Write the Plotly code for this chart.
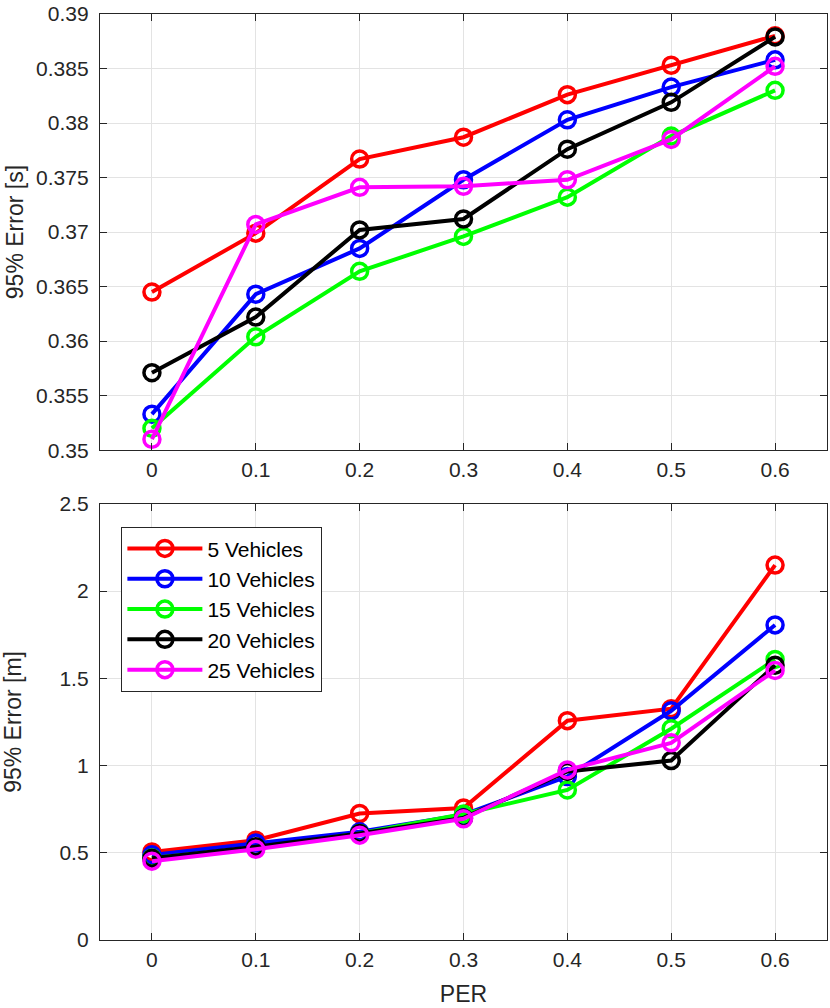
import plotly.graph_objects as go
from plotly.subplots import make_subplots

per = [0, 0.1, 0.2, 0.3, 0.4, 0.5, 0.6]
names = ["5 Vehicles", "10 Vehicles", "15 Vehicles", "20 Vehicles", "25 Vehicles"]
colors = ["#ff0000", "#0000ff", "#00ff00", "#000000", "#ff00ff"]

# 95% error in time [s]
err_s_5 = [0.3645, 0.3699, 0.3767, 0.3787, 0.3826, 0.3853, 0.3880]
err_s_10 = [0.3533, 0.3643, 0.3685, 0.3748, 0.3803, 0.3833, 0.3858]
err_s_15 = [0.3520, 0.3604, 0.3664, 0.3696, 0.3732, 0.3788, 0.3830]
err_s_20 = [0.3571, 0.3622, 0.3702, 0.3712, 0.3776, 0.3819, 0.3879]
err_s_25 = [0.3510, 0.3707, 0.3741, 0.3742, 0.3748, 0.3785, 0.3852]

# 95% error in distance [m]
err_m_5 = [0.505, 0.572, 0.725, 0.757, 1.257, 1.326, 2.149]
err_m_10 = [0.488, 0.556, 0.620, 0.718, 0.937, 1.314, 1.806]
err_m_15 = [0.470, 0.528, 0.611, 0.722, 0.860, 1.211, 1.608]
err_m_20 = [0.468, 0.535, 0.611, 0.700, 0.966, 1.029, 1.575]
err_m_25 = [0.452, 0.520, 0.601, 0.695, 0.975, 1.130, 1.545]

top = [err_s_5, err_s_10, err_s_15, err_s_20, err_s_25]
bottom = [err_m_5, err_m_10, err_m_15, err_m_20, err_m_25]

fig = make_subplots(rows=2, cols=1, vertical_spacing=0.058)

for i in range(len(names)):
    for row, data in [(1, top), (2, bottom)]:
        fig.add_trace(go.Scatter(
            x=per, y=data[i], mode="lines+markers", name=names[i],
            line=dict(color=colors[i], width=4),
            marker=dict(symbol="circle-open", size=16, color=colors[i],
                        line=dict(width=3.5, color=colors[i])),
            showlegend=(row == 2)), row=row, col=1)

font_name = "Liberation Sans, Arial"
title_font = dict(family=font_name, size=23, color="#262626")
axis_style = dict(showline=True, linecolor="#262626", linewidth=1.3, mirror="ticks",
                  ticks="inside", ticklen=7, tickcolor="#262626",
                  showgrid=True, gridcolor="#e3e3e3", gridwidth=1, zeroline=False,
                  tickfont=dict(family=font_name, size=21, color="#262626"))

fig.update_xaxes(range=[-0.05, 0.65], tickvals=per,
                 ticktext=["0", "0.1", "0.2", "0.3", "0.4", "0.5", "0.6"],
                 ticklabelstandoff=1, **axis_style)
fig.update_xaxes(title=dict(text="PER", font=title_font, standoff=15), row=2, col=1)
fig.update_yaxes(ticklabelstandoff=6, **axis_style)
fig.update_yaxes(range=[0.35, 0.39], dtick=0.005, tickformat="~g",
                 title=dict(text="95% Error [s]", font=title_font, standoff=6),
                 row=1, col=1)
fig.update_yaxes(range=[0, 2.5], dtick=0.5,
                 title=dict(text="95% Error [m]", font=title_font, standoff=31),
                 row=2, col=1)

fig.update_layout(
    width=830, height=1008,
    margin=dict(l=100, r=2, t=8, b=68),
    paper_bgcolor="white", plot_bgcolor="white",
    font=dict(family=font_name, color="#262626"),
    legend=dict(x=0.029, y=0.446, xanchor="left", yanchor="top",
                bgcolor="white", bordercolor="#262626", borderwidth=1.3,
                font=dict(size=21, color="black"), tracegroupgap=0,
                itemwidth=75),
)

fig.write_html("out.html", config={"displayModeBar": False},
               post_script="document.body.style.margin='0';")
